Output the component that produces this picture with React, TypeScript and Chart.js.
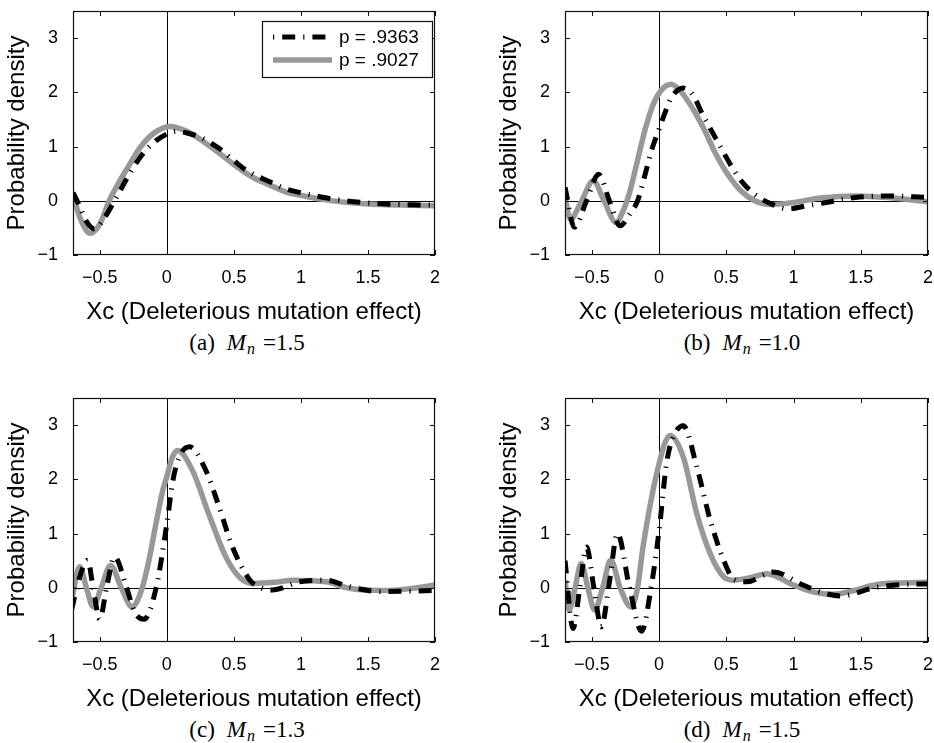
import React, { useEffect, useRef } from 'react';
import { Chart, registerables } from 'chart.js';
Chart.register(...registerables);

// ---------- data ----------
const X_TICKS = [-0.5, 0, 0.5, 1, 1.5, 2];
const Y_TICKS = [-1, 0, 1, 2, 3];
const X_MIN = -0.7;
const X_MAX = 2;
const Y_MIN = -1;
const Y_MAX = 3.5;
const SERIES_LABELS = ['p = .9363', 'p = .9027'];
const X_TITLE = 'Xc (Deleterious mutation effect)';
const Y_TITLE = 'Probability density';
const CAPTION_LETTERS = ['(a)', '(b)', '(c)', '(d)'];
const CAPTION_VALUES = ['1.5', '1.0', '1.3', '1.5'];

// (a)
const A_BLACK_X = [-0.7, -0.66, -0.6, -0.54, -0.47, -0.39, -0.3, -0.2, -0.1, 0.0, 0.07, 0.15, 0.25, 0.4, 0.5, 0.6, 0.75, 0.9, 1.0, 1.15, 1.3, 1.5, 1.75, 2.0];
const A_BLACK_Y = [0.15, -0.05, -0.38, -0.52, -0.33, 0.0, 0.4, 0.8, 1.07, 1.23, 1.28, 1.25, 1.17, 0.95, 0.74, 0.55, 0.37, 0.21, 0.15, 0.07, 0.01, -0.04, -0.07, -0.08];
const A_GRAY_X = [-0.7, -0.65, -0.57, -0.5, -0.43, -0.35, -0.3, -0.2, -0.1, 0.02, 0.15, 0.25, 0.4, 0.5, 0.65, 0.75, 0.9, 1.0, 1.15, 1.3, 1.5, 1.75, 2.0];
const A_GRAY_Y = [0.12, -0.3, -0.6, -0.43, 0.0, 0.37, 0.58, 0.98, 1.24, 1.37, 1.28, 1.13, 0.86, 0.67, 0.42, 0.31, 0.15, 0.1, 0.03, -0.02, -0.06, -0.08, -0.09];

// (b)
const B_BLACK_X = [-0.7, -0.63, -0.54, -0.45, -0.37, -0.29, -0.22, -0.16, -0.11, -0.05, 0.0, 0.04, 0.09, 0.18, 0.26, 0.31, 0.46, 0.53, 0.61, 0.71, 0.81, 0.96, 1.1, 1.2, 1.46, 1.7, 2.0];
const B_BLACK_Y = [0.25, -0.49, 0.0, 0.49, 0.0, -0.46, -0.25, 0.0, 0.43, 0.98, 1.32, 1.6, 1.9, 2.08, 1.92, 1.66, 0.98, 0.67, 0.37, 0.12, -0.03, -0.15, -0.09, -0.05, 0.06, 0.09, 0.06];
const B_GRAY_X = [-0.7, -0.66, -0.58, -0.49, -0.41, -0.32, -0.27, -0.22, -0.16, -0.1, -0.04, 0.02, 0.09, 0.16, 0.26, 0.34, 0.41, 0.51, 0.61, 0.71, 0.83, 1.0, 1.2, 1.46, 1.7, 2.0];
const B_GRAY_Y = [0.06, -0.34, -0.02, 0.37, 0.0, -0.4, -0.2, 0.15, 0.75, 1.35, 1.8, 2.05, 2.15, 2.02, 1.66, 1.29, 0.92, 0.49, 0.18, 0.0, -0.07, -0.03, 0.05, 0.09, 0.06, -0.02];

// (c)
const C_BLACK_X = [-0.71, -0.65, -0.59, -0.55, -0.5, -0.45, -0.39, -0.3, -0.24, -0.17, -0.08, 0.0, 0.045, 0.1, 0.17, 0.29, 0.39, 0.49, 0.62, 0.7, 0.79, 0.99, 1.19, 1.36, 1.6, 2.0];
const C_BLACK_Y = [-0.4, 0.2, 0.51, 0.0, -0.58, 0.0, 0.57, 0.0, -0.45, -0.58, 0.0, 1.18, 1.98, 2.45, 2.6, 2.17, 1.49, 0.75, 0.14, 0.0, -0.04, 0.11, 0.14, 0.02, -0.07, -0.05];
const C_GRAY_X = [-0.71, -0.65, -0.6, -0.55, -0.49, -0.42, -0.34, -0.26, -0.19, -0.13, -0.08, -0.03, 0.0, 0.04, 0.08, 0.19, 0.32, 0.44, 0.54, 0.64, 0.8, 0.94, 1.19, 1.36, 1.6, 1.8, 2.0];
const C_GRAY_Y = [-0.23, 0.39, 0.0, -0.35, 0.0, 0.41, 0.0, -0.35, -0.05, 0.55, 1.2, 1.8, 2.05, 2.4, 2.53, 2.17, 1.31, 0.57, 0.2, 0.08, 0.1, 0.14, 0.11, -0.01, -0.05, -0.02, 0.05];

// (d)
const D_BLACK_X = [-0.7, -0.64, -0.59, -0.54, -0.485, -0.43, -0.37, -0.31, -0.22, -0.13, -0.06, 0.0, 0.055, 0.1, 0.18, 0.28, 0.38, 0.48, 0.55, 0.65, 0.85, 1.07, 1.2, 1.35, 1.6, 1.8, 2.0];
const D_BLACK_Y = [0.5, -0.75, 0.0, 0.75, 0.0, -0.72, 0.1, 1.0, 0.0, -0.8, 0.0, 1.06, 2.29, 2.75, 2.99, 2.23, 1.25, 0.51, 0.17, 0.11, 0.29, 0.05, -0.08, -0.15, 0.0, 0.06, 0.07];
const D_GRAY_X = [-0.7, -0.67, -0.625, -0.58, -0.53, -0.48, -0.42, -0.36, -0.29, -0.21, -0.16, -0.12, -0.045, 0.0, 0.04, 0.08, 0.18, 0.28, 0.38, 0.48, 0.55, 0.7, 0.8, 1.0, 1.15, 1.3, 1.45, 1.6, 1.8, 2.0];
const D_GRAY_Y = [0.14, -0.41, 0.0, 0.45, 0.0, -0.41, 0.0, 0.51, 0.0, -0.35, 0.0, 0.75, 1.8, 2.29, 2.65, 2.81, 2.41, 1.37, 0.63, 0.2, 0.14, 0.2, 0.26, 0.05, -0.08, -0.12, -0.05, 0.05, 0.09, 0.1];

// ---------- styling / layout ----------
const SANS = "'Liberation Sans', Arial, Helvetica, sans-serif";
const SERIF = "'Liberation Serif', 'DejaVu Serif', serif";
const GRAY = '#989898';
const BLACK = '#000000';
const CANVAS_W_LEFT = 467;
const CANVAS_W_RIGHT = 442;
const CANVAS_H = 330;

type PanelDef = {
  bx: number[]; by: number[]; gx: number[]; gy: number[];
  left: number; top: number; width: number; padRight: number; legend: boolean;
};

const PANELS: PanelDef[] = [
  { bx: A_BLACK_X, by: A_BLACK_Y, gx: A_GRAY_X, gy: A_GRAY_Y, left: 0, top: 0, width: CANVAS_W_LEFT, padRight: 32, legend: true },
  { bx: B_BLACK_X, by: B_BLACK_Y, gx: B_GRAY_X, gy: B_GRAY_Y, left: 492, top: 0, width: CANVAS_W_RIGHT, padRight: 6, legend: false },
  { bx: C_BLACK_X, by: C_BLACK_Y, gx: C_GRAY_X, gy: C_GRAY_Y, left: 0, top: 387, width: CANVAS_W_LEFT, padRight: 32, legend: false },
  { bx: D_BLACK_X, by: D_BLACK_Y, gx: D_GRAY_X, gy: D_GRAY_Y, left: 492, top: 387, width: CANVAS_W_RIGHT, padRight: 6, legend: false },
];

const BLACK_DASH = [13, 8, 1.2, 8];

const fmt = (v: number) => String(v).replace('-', '\u2212');

const framePlugin = {
  id: 'frameAxes',
  beforeDatasetsDraw(chart: any) {
    const { ctx, chartArea, scales } = chart;
    const { left, right, top, bottom } = chartArea;
    const x0 = Math.round(scales.x.getPixelForValue(0)) + 0.5;
    const y0 = Math.round(scales.y.getPixelForValue(0)) + 0.5;
    ctx.save();
    ctx.strokeStyle = '#000';
    ctx.lineWidth = 1;
    ctx.beginPath();
    ctx.moveTo(left, y0);
    ctx.lineTo(right, y0);
    ctx.moveTo(x0, top);
    ctx.lineTo(x0, bottom);
    ctx.stroke();
    ctx.restore();
  },
  afterDatasetsDraw(chart: any, _args: any, opts: any) {
    const { ctx, chartArea, scales } = chart;
    const { left, right, top, bottom } = chartArea;
    ctx.save();
    ctx.strokeStyle = '#111';
    ctx.lineWidth = 1.2;
    ctx.setLineDash([]);
    ctx.strokeRect(left + 0.5, top + 0.5, right - left - 1, bottom - top - 1);
    const tl = 5;
    ctx.lineWidth = 1;
    ctx.beginPath();
    X_TICKS.forEach((v) => {
      const px = Math.round(scales.x.getPixelForValue(v)) + 0.5;
      ctx.moveTo(px, bottom);
      ctx.lineTo(px, bottom - tl);
      ctx.moveTo(px, top);
      ctx.lineTo(px, top + tl);
    });
    Y_TICKS.forEach((v) => {
      const py = Math.round(scales.y.getPixelForValue(v)) + 0.5;
      ctx.moveTo(left, py);
      ctx.lineTo(left + tl, py);
      ctx.moveTo(right, py);
      ctx.lineTo(right - tl, py);
    });
    ctx.stroke();

    if (opts && opts.legend) {
      const ds = chart.data.datasets;
      const bw = 170, bh = 56;
      const bxp = right - 3 - bw;
      const byp = top + 10;
      ctx.fillStyle = '#fff';
      ctx.fillRect(bxp, byp, bw, bh);
      ctx.strokeStyle = '#111';
      ctx.lineWidth = 1.2;
      ctx.strokeRect(bxp + 0.5, byp + 0.5, bw, bh);
      const rows = [byp + 16, byp + 39];
      const sx0 = bxp + 11, sx1 = bxp + 70;
      ctx.strokeStyle = ds[0].borderColor;
      ctx.lineWidth = ds[0].borderWidth;
      ctx.lineCap = 'butt';
      ctx.setLineDash(BLACK_DASH);
      ctx.lineDashOffset = 21;
      ctx.beginPath();
      ctx.moveTo(sx0, rows[0]);
      ctx.lineTo(sx1, rows[0]);
      ctx.stroke();
      ctx.setLineDash([]);
      ctx.lineDashOffset = 0;
      ctx.strokeStyle = ds[1].borderColor;
      ctx.lineWidth = ds[1].borderWidth;
      ctx.beginPath();
      ctx.moveTo(sx0, rows[1]);
      ctx.lineTo(sx1, rows[1]);
      ctx.stroke();
      ctx.fillStyle = '#000';
      ctx.font = `19px ${SANS}`;
      ctx.textBaseline = 'middle';
      ctx.textAlign = 'left';
      ctx.fillText(ds[0].label, bxp + 77, rows[0] + 1);
      ctx.fillText(ds[1].label, bxp + 77, rows[1] + 1);
    }
    ctx.restore();
  },
};

function Panel({ def }: { def: PanelDef }) {
  const ref = useRef<HTMLCanvasElement | null>(null);
  useEffect(() => {
    if (!ref.current) return;
    const toPts = (xs: number[], ys: number[]) => xs.map((x, i) => ({ x, y: ys[i] }));
    const chart = new Chart(ref.current, {
      type: 'line',
      data: {
        datasets: [
          {
            label: SERIES_LABELS[0],
            data: toPts(def.bx, def.by),
            borderColor: BLACK,
            borderWidth: 5,
            borderDash: BLACK_DASH,
            borderCapStyle: 'butt',
            pointRadius: 0,
            cubicInterpolationMode: 'monotone',
            fill: false,
          },
          {
            label: SERIES_LABELS[1],
            data: toPts(def.gx, def.gy),
            borderColor: GRAY,
            borderWidth: 5.5,
            borderCapStyle: 'butt',
            pointRadius: 0,
            cubicInterpolationMode: 'monotone',
            fill: false,
          },
        ],
      },
      options: {
        responsive: false,
        animation: false,
        devicePixelRatio: 1,
        layout: { padding: { left: 0, top: 11, right: def.padRight, bottom: 0 } },
        plugins: {
          legend: { display: false },
          tooltip: { enabled: false },
          frameAxes: { legend: def.legend },
        } as any,
        scales: {
          x: {
            type: 'linear',
            min: X_MIN,
            max: X_MAX,
            afterBuildTicks: (s: any) => { s.ticks = X_TICKS.map((v) => ({ value: v })); },
            afterFit: (s: any) => { s.height = 75; s.paddingLeft = 0; s.paddingRight = 0; },
            grid: { display: false, drawTicks: false },
            border: { display: false },
            ticks: {
              padding: 12,
              color: '#000',
              autoSkip: false,
              maxRotation: 0,
              font: { family: SANS, size: 18 },
              callback: (v: any) => fmt(Number(v)),
            },
            title: {
              display: true,
              text: X_TITLE,
              color: '#000',
              font: { family: SANS, size: 24 },
              padding: { top: 0, bottom: 3 },
            },
          },
          y: {
            type: 'linear',
            min: Y_MIN,
            max: Y_MAX,
            afterBuildTicks: (s: any) => { s.ticks = Y_TICKS.map((v) => ({ value: v })); },
            afterFit: (s: any) => { s.width = 73; s.paddingTop = 0; s.paddingBottom = 0; },
            grid: { display: false, drawTicks: false },
            border: { display: false },
            ticks: {
              padding: 15,
              color: '#000',
              autoSkip: false,
              font: { family: SANS, size: 18 },
              callback: (v: any) => fmt(Number(v)),
            },
            title: {
              display: true,
              text: Y_TITLE,
              color: '#000',
              font: { family: SANS, size: 24 },
              padding: { top: 3, bottom: 0 },
            },
          },
        },
      },
      plugins: [framePlugin as any],
    } as any);
    return () => chart.destroy();
  }, [def]);
  return (
    <canvas
      ref={ref}
      width={def.width}
      height={CANVAS_H}
      style={{ position: 'absolute', left: def.left, top: def.top, width: def.width, height: CANVAS_H }}
    />
  );
}

function Caption({ idx, cx, cy }: { idx: number; cx: number; cy: number }) {
  return (
    <div
      style={{
        position: 'absolute',
        left: cx,
        top: cy,
        transform: 'translate(-50%, -50%)',
        fontFamily: SERIF,
        fontSize: 23,
        whiteSpace: 'nowrap',
        color: '#000',
        lineHeight: 1,
      }}
    >
      {CAPTION_LETTERS[idx]}
      <span style={{ marginLeft: 12, fontStyle: 'italic' }}>M</span>
      <sub style={{ fontSize: 16, fontStyle: 'italic', verticalAlign: '-0.25em', marginLeft: 1 }}>n</sub>
      <span style={{ marginLeft: 8 }}>={CAPTION_VALUES[idx]}</span>
    </div>
  );
}

export default function App() {
  return (
    <div style={{ position: 'fixed', left: 0, top: 0, width: 934, height: 743, background: '#fff', overflow: 'hidden' }}>
      {PANELS.map((p, i) => (
        <Panel key={i} def={p} />
      ))}
      <Caption idx={0} cx={247} cy={344} />
      <Caption idx={1} cx={742} cy={344} />
      <Caption idx={2} cx={247} cy={731} />
      <Caption idx={3} cx={742} cy={731} />
    </div>
  );
}
